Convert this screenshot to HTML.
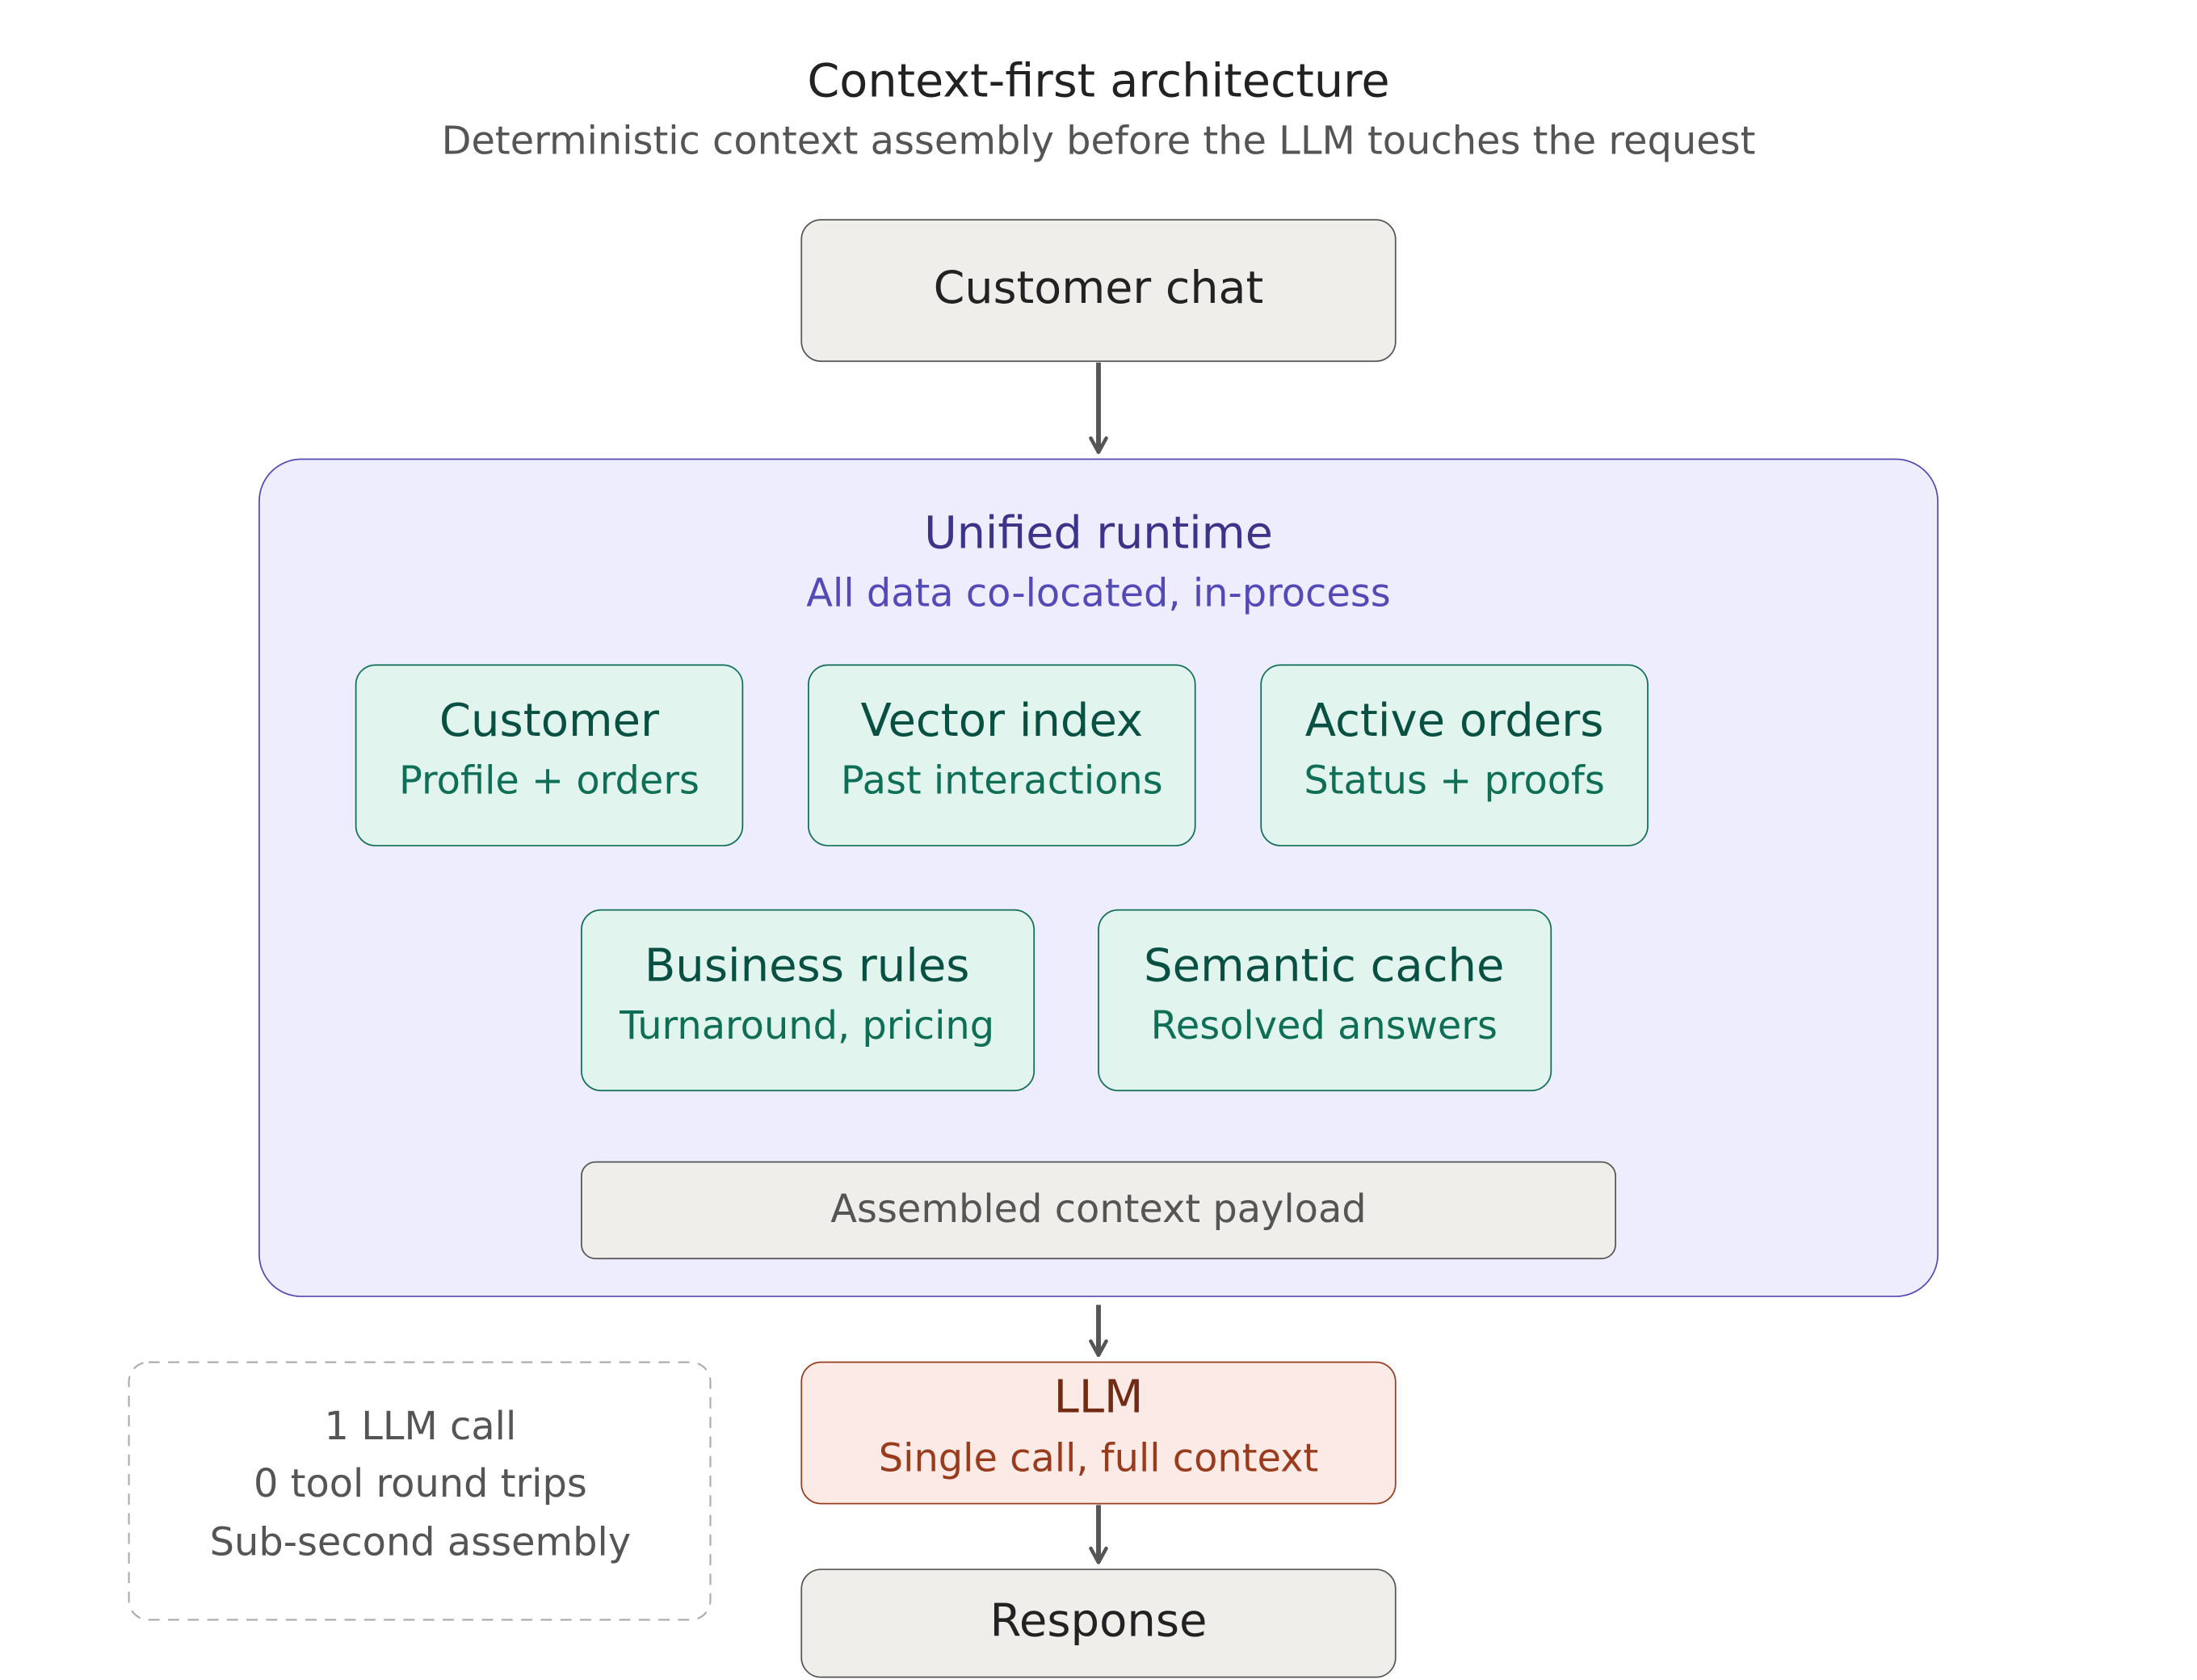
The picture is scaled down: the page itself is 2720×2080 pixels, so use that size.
<!DOCTYPE html>
<html><head><meta charset="utf-8"><style>html,body{margin:0;padding:0;background:#fff}svg{display:block}</style></head>
<body>
<svg width="2720" height="2080" viewBox="0 0 1568 1200" preserveAspectRatio="none" xmlns="http://www.w3.org/2000/svg" font-family="'DejaVu Sans','Liberation Sans',sans-serif" text-anchor="middle" dominant-baseline="central">
<defs><marker id="a" viewBox="0 0 14 14" refX="12" refY="7" markerWidth="14" markerHeight="14" markerUnits="userSpaceOnUse" orient="auto"><path d="M2 1.5 L12 7 L2 12.5" fill="none" stroke="#555" stroke-width="2.6" stroke-linecap="round" stroke-linejoin="round"/></marker></defs>
<rect width="1568" height="1200" fill="#fff"/>
<text x="784" y="58" font-size="33" fill="#222">Context-first architecture</text>
<text x="784" y="101" font-size="27.6" fill="#555">Deterministic context assembly before the LLM touches the request</text>
<rect x="572" y="157" width="424" height="101" rx="14" fill="#efeeea" stroke="#555" stroke-width="1"/>
<text x="784" y="206" font-size="32" fill="#222">Customer chat</text>
<line x1="784" y1="259" x2="784" y2="323" stroke="#555" stroke-width="3.4" marker-end="url(#a)"/>
<rect x="185" y="328" width="1198" height="598" rx="30" fill="#eeedfd" stroke="#534ab7" stroke-width="1"/>
<text x="784" y="381" font-size="32" fill="#3c3489">Unified runtime</text>
<text x="784" y="424" font-size="27.6" fill="#534ab7">All data co-located, in-process</text>
<g stroke="#0f6e56" stroke-width="1" fill="#e1f5ee">
<rect x="254" y="475" width="276" height="129" rx="14"/>
<rect x="577" y="475" width="276" height="129" rx="14"/>
<rect x="900" y="475" width="276" height="129" rx="14"/>
<rect x="415" y="650" width="323" height="129" rx="14"/>
<rect x="784" y="650" width="323" height="129" rx="14"/>
</g>
<g font-size="32.3" fill="#085041">
<text x="392" y="515">Customer</text>
<text x="715" y="515">Vector index</text>
<text x="1038" y="515">Active orders</text>
<text x="576" y="690">Business rules</text>
<text x="945" y="690">Semantic cache</text>
</g>
<g font-size="27.6" fill="#0f6e56">
<text x="392" y="558">Profile + orders</text>
<text x="715" y="558">Past interactions</text>
<text x="1038" y="558">Status + proofs</text>
<text x="576" y="733">Turnaround, pricing</text>
<text x="945" y="733">Resolved answers</text>
</g>
<rect x="415" y="830" width="738" height="69" rx="10" fill="#efeeea" stroke="#555" stroke-width="1"/>
<text x="784" y="864" font-size="27.6" fill="#555">Assembled context payload</text>
<line x1="784" y1="932" x2="784" y2="968" stroke="#555" stroke-width="3.4" marker-end="url(#a)"/>
<rect x="572" y="973" width="424" height="101" rx="14" fill="#fbeae5" stroke="#993c1d" stroke-width="1"/>
<text x="784" y="998" font-size="32.3" fill="#712b13">LLM</text>
<text x="784" y="1042" font-size="27.6" fill="#993c1d">Single call, full context</text>
<line x1="784" y1="1075" x2="784" y2="1116" stroke="#555" stroke-width="3.4" marker-end="url(#a)"/>
<rect x="572" y="1121" width="424" height="77" rx="14" fill="#efeeea" stroke="#555" stroke-width="1"/>
<text x="784" y="1158" font-size="32.3" fill="#222">Response</text>
<rect x="92" y="973" width="415" height="184" rx="14" fill="none" stroke="#aaa" stroke-width="1.2" stroke-dasharray="8 6"/>
<g font-size="27.6" fill="#555">
<text x="300" y="1019">1 LLM call</text>
<text x="300" y="1060">0 tool round trips</text>
<text x="300" y="1102">Sub-second assembly</text>
</g>
</svg>
</body></html>
